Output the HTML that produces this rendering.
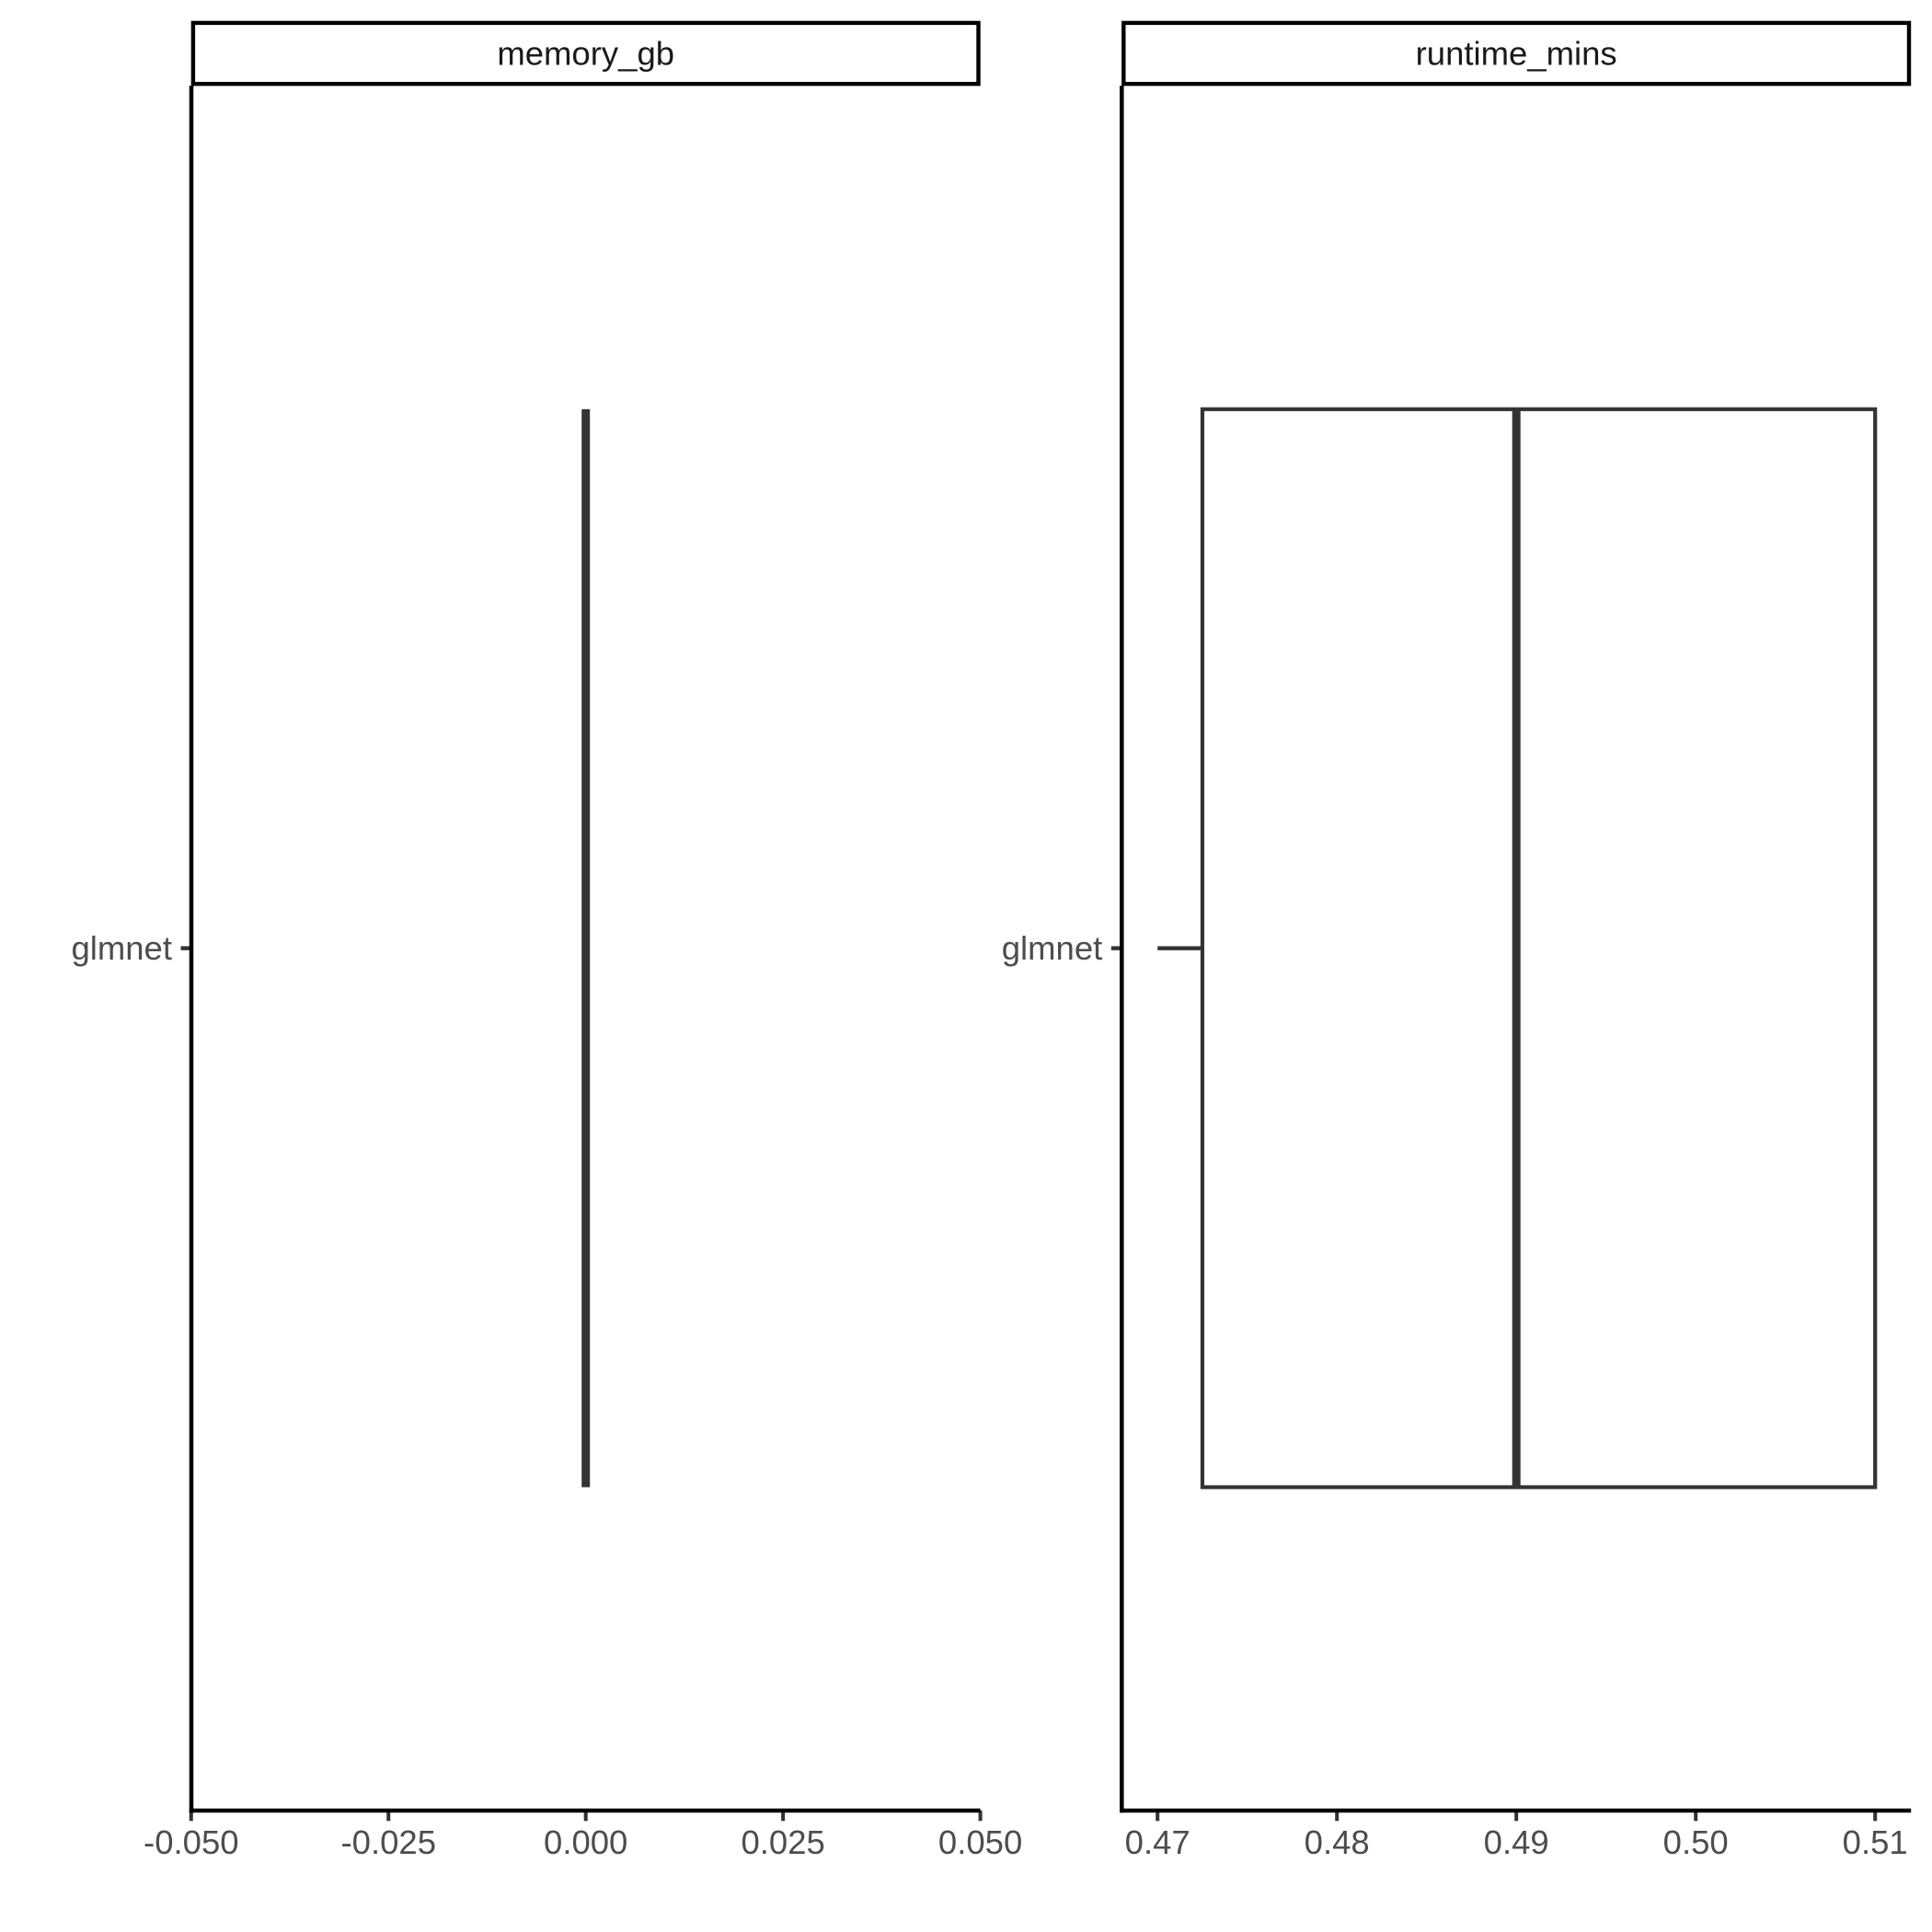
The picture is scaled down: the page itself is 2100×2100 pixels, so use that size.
<!DOCTYPE html>
<html lang="en">
<head>
<meta charset="utf-8">
<title>memory_gb and runtime_mins boxplots</title>
<style>
html,body{margin:0;padding:0;background:#fff;}
svg{display:block;}
text{font-family:"Liberation Sans",sans-serif;font-size:36.5px;}
</style>
</head>
<body>
<svg id="chart" xmlns="http://www.w3.org/2000/svg" width="2100" height="2100" viewBox="0 0 2100 2100">
<rect x="0" y="0" width="2100" height="2100" fill="#ffffff"/>
</svg>
<script>
const category = 'glmnet';
const facetNames = ['memory_gb', 'runtime_mins'];
const memoryTicks = [-0.05, -0.025, 0, 0.025, 0.05];
const memoryTickLabels = ['-0.050', '-0.025', '0.000', '0.025', '0.050'];
const runtimeTicks = [0.47, 0.48, 0.49, 0.5, 0.51];
const runtimeTickLabels = ['0.47', '0.48', '0.49', '0.50', '0.51'];
const memoryStats = [0, 0, 0, 0, 0];
const runtimeStats = [0.47, 0.4725, 0.49, 0.51, 0.51];
const memoryDomain = [-0.05, 0.05];
const runtimeDomain = [0.468, 0.512];

const svg = document.getElementById('chart');
const NS = 'http://www.w3.org/2000/svg';
const panelTop = 93.3, panelBottom = 1968, categoryWidth = 0.75;
const AXIS = '#000000', TICK = '#333333', BOX = '#333333';
const yCenter = (panelTop + panelBottom) / 2;
const boxHalf = (panelBottom - panelTop) * categoryWidth / 1.2 / 2;

function make(tag, attrs, name, interactable) {
  const el = document.createElementNS(NS, tag);
  for (const k in attrs) el.setAttribute(k, attrs[k]);
  
  
  svg.appendChild(el);
  return el;
}

function drawFacet(o) {
  const slug = o.title.replace('_', '-');
  const x = v => o.left + (v - o.domain[0]) / (o.domain[1] - o.domain[0]) * (o.right - o.left);

  make('rect', {x: o.stripLeft, y: 24.9, width: o.stripRight - o.stripLeft, height: 66.3, fill: '#ffffff', stroke: '#000000', 'stroke-width': 4.4}, slug + '-strip', 'false');
  const st = make('text', {x: (o.stripLeft + o.stripRight) / 2, y: 70.7, 'text-anchor': 'middle', fill: '#1a1a1a'}, slug + '-strip-label', 'false');
  st.textContent = o.title;

  const [lo, q1, med, q3, hi] = o.stats;
  make('line', {x1: x(lo), x2: x(q1), y1: yCenter, y2: yCenter, stroke: BOX, 'stroke-width': 4.4}, slug + '-whisker-low', 'false');
  make('line', {x1: x(q3), x2: x(hi), y1: yCenter, y2: yCenter, stroke: BOX, 'stroke-width': 4.4}, slug + '-whisker-high', 'false');
  make('rect', {x: x(q1), y: yCenter - boxHalf, width: x(q3) - x(q1), height: boxHalf * 2, fill: '#ffffff', stroke: BOX, 'stroke-width': 4.2}, slug + '-box', 'false');
  make('line', {x1: x(med), x2: x(med), y1: yCenter - boxHalf, y2: yCenter + boxHalf, stroke: BOX, 'stroke-width': 9}, slug + '-median', 'false');

  o.ticks.forEach((t, i) => {
    make('line', {x1: x(t), x2: x(t), y1: panelBottom, y2: 1979.3, stroke: TICK, 'stroke-width': 4}, slug + '-x-tick', 'false');
    const lab = make('text', {x: x(t), y: 2015, 'text-anchor': 'middle', fill: '#4d4d4d'}, slug + '-x-tick-label', 'false');
    lab.textContent = o.labels[i];
  });

  make('line', {x1: o.axisX - 11.5, x2: o.axisX, y1: yCenter, y2: yCenter, stroke: TICK, 'stroke-width': 4.4}, slug + '-y-tick', 'false');
  const yl = make('text', {x: o.axisX - 21, y: 1043.2, 'text-anchor': 'end', fill: '#4d4d4d'}, slug + '-y-tick-label', 'false');
  yl.textContent = category;

  make('line', {x1: o.axisX, x2: o.axisX, y1: panelTop, y2: panelBottom + 2.2, stroke: AXIS, 'stroke-width': 4.5}, slug + '-y-axis-line', 'false');
  make('line', {x1: o.axisX - 2.2, x2: o.right, y1: panelBottom, y2: panelBottom, stroke: AXIS, 'stroke-width': 4.5}, slug + '-x-axis-line', 'false');
}

drawFacet({title: facetNames[0], domain: memoryDomain, ticks: memoryTicks, labels: memoryTickLabels, stats: memoryStats,
           left: 207.8, right: 1065.6, axisX: 208, stripLeft: 209.9, stripRight: 1063.5});
drawFacet({title: facetNames[1], domain: runtimeDomain, ticks: runtimeTicks, labels: runtimeTickLabels, stats: runtimeStats,
           left: 1219.2, right: 2077.2, axisX: 1219.3, stripLeft: 1221.3, stripRight: 2075});
</script>
</body>
</html>
